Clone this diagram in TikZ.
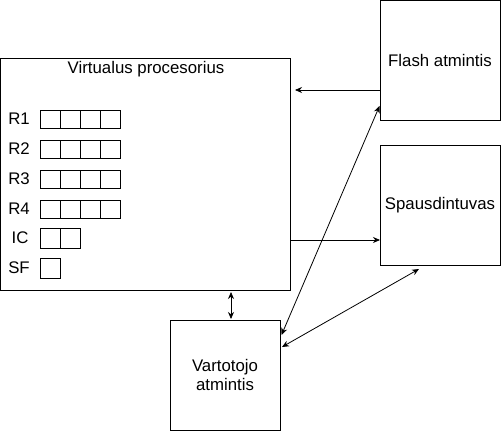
\documentclass[tikz,border=0pt]{standalone}
\usepackage{fontspec}
\setmainfont{Liberation Sans}
\usetikzlibrary{arrows.meta}
\begin{document}
\begin{tikzpicture}[x=1pt,y=-1pt,
  box/.style={draw,line width=1pt},
  cell/.style={draw,line width=0.9pt},
  lbl/.style={font=\fontsize{16.8}{19}\selectfont,inner sep=0pt},
  conn/.style={line width=0.8pt,-{Stealth[length=7pt,width=6pt]}},
  bconn/.style={line width=0.8pt,{Stealth[length=7pt,width=6pt]}-{Stealth[length=7pt,width=6pt]}}]
\useasboundingbox (0,0) rectangle (501,431);
% boxes
\draw[box] (0.5,58) rectangle (290,290);
\node[lbl] (cpu) at (146,69) {Virtualus procesorius};
\coordinate (cpuE1) at (295,90);
\coordinate (cpuE2) at (290,240);
\coordinate (cpuS1) at (231,292);

\node[box,minimum width=120pt,minimum height=120pt,inner sep=0pt] (flash) at (440,60.5) {};
\node[lbl] at (flash.center) {Flash atmintis};
\node[box,minimum width=120pt,minimum height=120pt,inner sep=0pt] (spaus) at (440,205) {};
\node[lbl] at (spaus.center) {Spausdintuvas};
\node[box,minimum width=110pt,minimum height=110pt,inner sep=0pt] (vart) at (225,375) {};
\node[lbl,align=center] at (vart.center) {Vartotojo\\atmintis};

% registers
\foreach \r/\y in {1/119,2/149,3/179,4/209}{
  \node[lbl] (r\r) at (19,\y) {R\r};
  \foreach \i in {0,...,3}{
    \draw[cell] (40+20*\i,\y-9) rectangle (60+20*\i,\y+9);
  }
}
\node[lbl] (ic) at (20,238) {IC};
\foreach \i in {0,1}{\draw[cell] (40+20*\i,228) rectangle (60+20*\i,248);}
\node[lbl] (sf) at (19,268) {SF};
\draw[cell] (40,258) rectangle (60,278);

% connectors
\coordinate (fW) at (380,90);
\draw[conn] (fW) -- (cpuE1);
\coordinate (sW) at (380,240);
\draw[conn] (cpuE2) -- (sW);
\coordinate (vN) at (231,319);
\draw[bconn] (cpuS1) -- (vN);
\coordinate (vE1) at (281.5,335);
\coordinate (fSW) at (379.5,106);
\draw[bconn] (vE1) -- (fSW);
\coordinate (vE2) at (282,347);
\coordinate (sS) at (419,269);
\draw[bconn] (vE2) -- (sS);
\end{tikzpicture}
\end{document}
